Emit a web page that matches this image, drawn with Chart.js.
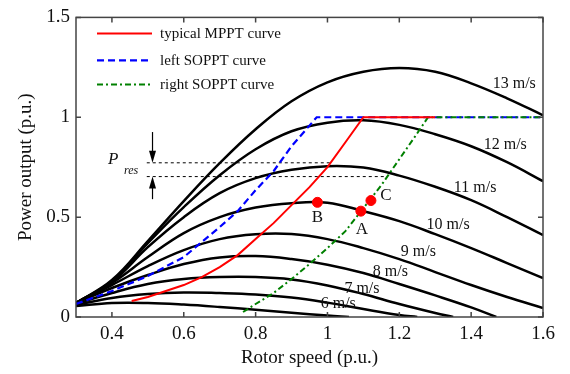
<!DOCTYPE html>
<html>
<head>
<meta charset="utf-8">
<script src="https://cdn.jsdelivr.net/npm/chart.js@4.4.0/dist/chart.umd.min.js"></script>
<style>
  html, body { margin: 0; padding: 0; background: #fff; }
</style>
</head>
<body>
<canvas id="grafica" width="570" height="374"></canvas>
<script>
// velocidad del rotor (p.u.) para las curvas completas
const rotorX = [0.3, 0.4, 0.5, 0.6, 0.7, 0.8, 0.9, 1.0, 1.1, 1.2, 1.3, 1.4, 1.5, 1.6];
const p13 = [0.07, 0.185, 0.38, 0.58, 0.77, 0.94, 1.08, 1.175, 1.228, 1.247, 1.228, 1.17, 1.095, 1.01];
const p12 = [0.07, 0.18, 0.37, 0.55, 0.71, 0.84, 0.93, 0.973, 0.985, 0.962, 0.915, 0.855, 0.775, 0.68];
const p11 = [0.07, 0.175, 0.35, 0.5, 0.62, 0.695, 0.737, 0.755, 0.748, 0.708, 0.652, 0.585, 0.50, 0.41];
const p10 = [0.07, 0.17, 0.3, 0.42, 0.5, 0.548, 0.57, 0.572, 0.53, 0.48, 0.415, 0.345, 0.27, 0.195];
const p9 = [0.07, 0.16, 0.255, 0.335, 0.39, 0.414, 0.415, 0.39, 0.345, 0.29, 0.225, 0.16, 0.1, 0.045];
// las curvas bajas llegan a cero antes de 1.6
const x8 = [0.3, 0.4, 0.5, 0.6, 0.7, 0.8, 0.9, 1.0, 1.1, 1.2, 1.3, 1.4, 1.47];
const p8 = [0.07, 0.145, 0.21, 0.265, 0.298, 0.305, 0.29, 0.262, 0.22, 0.165, 0.108, 0.048, 0];
const x7 = [0.3, 0.4, 0.5, 0.6, 0.7, 0.8, 0.9, 1.0, 1.1, 1.2, 1.3, 1.35];
const p7 = [0.065, 0.12, 0.165, 0.19, 0.2, 0.2, 0.188, 0.158, 0.115, 0.065, 0.02, 0];
const x6 = [0.3, 0.4, 0.5, 0.6, 0.7, 0.8, 0.9, 1.0, 1.1, 1.2, 1.25];
const p6 = [0.06, 0.095, 0.115, 0.123, 0.12, 0.113, 0.098, 0.072, 0.04, 0.01, 0];
const x5 = [0.3, 0.4, 0.5, 0.6, 0.7, 0.8, 0.9, 1.0, 1.06];
const p5 = [0.055, 0.07, 0.07, 0.062, 0.05, 0.036, 0.021, 0.007, 0];

// curvas de operacion
const mpptX = [0.455, 0.5, 0.55, 0.6, 0.65, 0.7, 0.75, 0.8, 0.85, 0.9, 0.95, 1.0, 1.05, 1.1, 1.3];
const mpptP = [0.08, 0.1, 0.13, 0.16, 0.2, 0.25, 0.31, 0.39, 0.47, 0.56, 0.65, 0.75, 0.875, 1.0, 1.0];
const leftX = [0.3, 0.4, 0.5, 0.6, 0.7, 0.75, 0.8, 0.85, 0.9, 0.97, 1.6];
const leftP = [0.065, 0.13, 0.205, 0.3, 0.45, 0.53, 0.635, 0.73, 0.855, 1.0, 1.0];
const rightX = [0.765, 0.8, 0.85, 0.9, 0.95, 1.0, 1.05, 1.1, 1.15, 1.2, 1.25, 1.28, 1.6];
const rightP = [0.025, 0.065, 0.12, 0.19, 0.265, 0.345, 0.43, 0.545, 0.66, 0.79, 0.92, 1.0, 1.0];

// puntos B, A, C
const puntosNombre = ['B', 'A', 'C'];
const puntosX = [0.972, 1.093, 1.121];
const puntosP = [0.574, 0.53, 0.583];

// lineas de reserva (P_res)
const reservaP = [0.772, 0.703];
const reservaFin = [1.01, 1.167];

const xTicks = [0.4, 0.6, 0.8, 1.0, 1.2, 1.4, 1.6];
const xTickLabels = ['0.4', '0.6', '0.8', '1', '1.2', '1.4', '1.6'];
const yTicks = [0, 0.5, 1, 1.5];
const yTickLabels = ['0', '0.5', '1', '1.5'];

const velocidades = ['13 m/s', '12 m/s', '11 m/s', '10 m/s', '9 m/s', '8 m/s', '7 m/s', '6 m/s'];
// donde va cada rotulo (en unidades de los ejes)
const rotulosX = [1.52, 1.495, 1.411, 1.336, 1.253, 1.175, 1.096, 1.03];
const rotulosY = [1.168, 0.861, 0.649, 0.46, 0.327, 0.228, 0.139, 0.064];

const fuente = 'Liberation Serif, Times New Roman, serif';

function puntos(xs, ys) {
  return xs.map((x, i) => ({x: x, y: ys[i]}));
}

var datasets = [];
const curvas = [[rotorX, p13], [rotorX, p12], [rotorX, p11], [rotorX, p10], [rotorX, p9],
                [x8, p8], [x7, p7], [x6, p6], [x5, p5]];
for (const [xs, ys] of curvas) {
  datasets.push({
    data: puntos(xs, ys),
    borderColor: '#000',
    borderWidth: 2.5,
    pointRadius: 0,
    tension: 0.4,
    order: 6
  });
}
datasets.push({
  label: 'typical MPPT curve',
  data: puntos(mpptX, mpptP),
  borderColor: '#ff0000', borderWidth: 2, pointRadius: 0, order: 1
});
datasets.push({
  label: 'right SOPPT curve',
  data: puntos(rightX, rightP),
  borderColor: '#008000', borderWidth: 2, borderDash: [6, 3, 2, 3], pointRadius: 0, order: 2
});
datasets.push({
  label: 'left SOPPT curve',
  data: puntos(leftX, leftP),
  borderColor: '#0000ff', borderWidth: 2.2, borderDash: [7, 4], pointRadius: 0, order: 3
});
reservaP.forEach((p, i) => {
  datasets.push({
    data: [{x: 0.497, y: p}, {x: reservaFin[i], y: p}],
    borderColor: '#000', borderWidth: 1, borderDash: [3, 3], pointRadius: 0, order: 5
  });
});
datasets.push({
  data: puntos(puntosX, puntosP),
  showLine: false,
  pointRadius: 5,
  pointBackgroundColor: '#ff0000',
  pointBorderColor: '#ff0000',
  order: 0
});

function flecha(ctx, x, y0, y1) {
  // linea vertical con punta en y1
  var dir = y1 > y0 ? 1 : -1;
  ctx.beginPath();
  ctx.moveTo(x, y0);
  ctx.lineTo(x, y1 - dir * 10);
  ctx.stroke();
  ctx.beginPath();
  ctx.moveTo(x, y1);
  ctx.lineTo(x - 3.5, y1 - dir * 12);
  ctx.lineTo(x + 3.5, y1 - dir * 12);
  ctx.closePath();
  ctx.fill();
}

const anotaciones = {
  id: 'anotaciones',
  afterDatasetsDraw(chart) {
    const ctx = chart.ctx;
    const ca = chart.chartArea;
    const sx = chart.scales.x, sy = chart.scales.y;
    ctx.save();

    // marco y marcas hacia dentro
    ctx.strokeStyle = '#444';
    ctx.lineWidth = 1.5;
    ctx.strokeRect(ca.left, ca.top, ca.right - ca.left, ca.bottom - ca.top);
    ctx.beginPath();
    for (const v of xTicks) {
      const px = sx.getPixelForValue(v);
      ctx.moveTo(px, ca.bottom); ctx.lineTo(px, ca.bottom - 5);
      ctx.moveTo(px, ca.top); ctx.lineTo(px, ca.top + 5);
    }
    for (const v of yTicks) {
      const py = sy.getPixelForValue(v);
      ctx.moveTo(ca.left, py); ctx.lineTo(ca.left + 5, py);
      ctx.moveTo(ca.right, py); ctx.lineTo(ca.right - 5, py);
    }
    ctx.stroke();

    // flechas de la reserva
    ctx.strokeStyle = '#000';
    ctx.fillStyle = '#000';
    ctx.lineWidth = 1.2;
    const fx = sx.getPixelForValue(0.513);
    flecha(ctx, fx, sy.getPixelForValue(0.926), sy.getPixelForValue(reservaP[0]));
    flecha(ctx, fx, sy.getPixelForValue(0.59), sy.getPixelForValue(reservaP[1]));

    ctx.fillStyle = '#111';
    ctx.textBaseline = 'middle';
    ctx.textAlign = 'left';
    ctx.font = 'italic 17px ' + fuente;
    ctx.fillText('P', 108, 160);
    ctx.font = 'italic 12px ' + fuente;
    ctx.fillText('res', 124, 171);

    // rotulos de velocidad de viento
    ctx.font = '16px ' + fuente;
    ctx.textAlign = 'center';
    velocidades.forEach((t, i) => {
      ctx.fillText(t, sx.getPixelForValue(rotulosX[i]), sy.getPixelForValue(rotulosY[i]));
    });

    // nombres de los puntos
    ctx.font = '17px ' + fuente;
    const desp = [[0, 15], [1, 18], [15, -5]];
    puntosNombre.forEach((n, i) => {
      ctx.fillText(n, sx.getPixelForValue(puntosX[i]) + desp[i][0], sy.getPixelForValue(puntosP[i]) + desp[i][1]);
    });

    // leyenda dentro del area
    const filas = [
      {texto: 'typical MPPT curve', color: '#ff0000', dash: [], ancho: 2},
      {texto: 'left SOPPT curve', color: '#0000ff', dash: [7, 4], ancho: 2.2},
      {texto: 'right SOPPT curve', color: '#008000', dash: [6, 3, 2, 3], ancho: 2}
    ];
    const dy = [16, 43, 67];
    ctx.font = '15px ' + fuente;
    ctx.textAlign = 'left';
    filas.forEach((f, i) => {
      const y = ca.top + dy[i];
      ctx.strokeStyle = f.color;
      ctx.lineWidth = f.ancho;
      ctx.setLineDash(f.dash);
      ctx.beginPath();
      ctx.moveTo(ca.left + 21, y);
      ctx.lineTo(ca.left + 76, y);
      ctx.stroke();
      ctx.setLineDash([]);
      ctx.fillStyle = '#111';
      ctx.fillText(f.texto, ca.left + 84, y + 1);
    });
    ctx.restore();
  }
};

const canvas = document.getElementById('grafica');
canvas.chart = new Chart(canvas.getContext('2d'), {
  type: 'line',
  data: {datasets: datasets},
  options: {
    responsive: false,
    animation: false,
    devicePixelRatio: 1,
    layout: {padding: {left: 0, right: 27, top: 14, bottom: 0}},
    plugins: {legend: {display: false}, tooltip: {enabled: false}},
    scales: {
      x: {
        type: 'linear', min: 0.3, max: 1.6,
        afterBuildTicks: s => { s.ticks = xTicks.map(v => ({value: v})); },
        afterFit: s => { s.height = 57; },
        grid: {display: false, drawTicks: false},
        border: {display: false},
        ticks: {
          callback: (v, i) => xTickLabels[i],
          autoSkip: false, maxRotation: 0, padding: 6, color: '#111',
          font: {family: fuente, size: 19}
        },
        title: {
          display: true, text: 'Rotor speed (p.u.)', color: '#111',
          font: {family: fuente, size: 19}, padding: {top: 0, bottom: 5}
        }
      },
      y: {
        type: 'linear', min: 0, max: 1.5,
        afterBuildTicks: s => { s.ticks = yTicks.map(v => ({value: v})); },
        afterFit: s => { s.width = 76; },
        grid: {display: false, drawTicks: false},
        border: {display: false},
        ticks: {
          callback: (v, i) => yTickLabels[i],
          autoSkip: false, padding: 6, color: '#111',
          font: {family: fuente, size: 19}
        },
        title: {
          display: true, text: 'Power output (p.u.)', color: '#111',
          font: {family: fuente, size: 19}, padding: {top: 15, bottom: 0}
        }
      }
    }
  },
  plugins: [anotaciones]
});
</script>
</body>
</html>
